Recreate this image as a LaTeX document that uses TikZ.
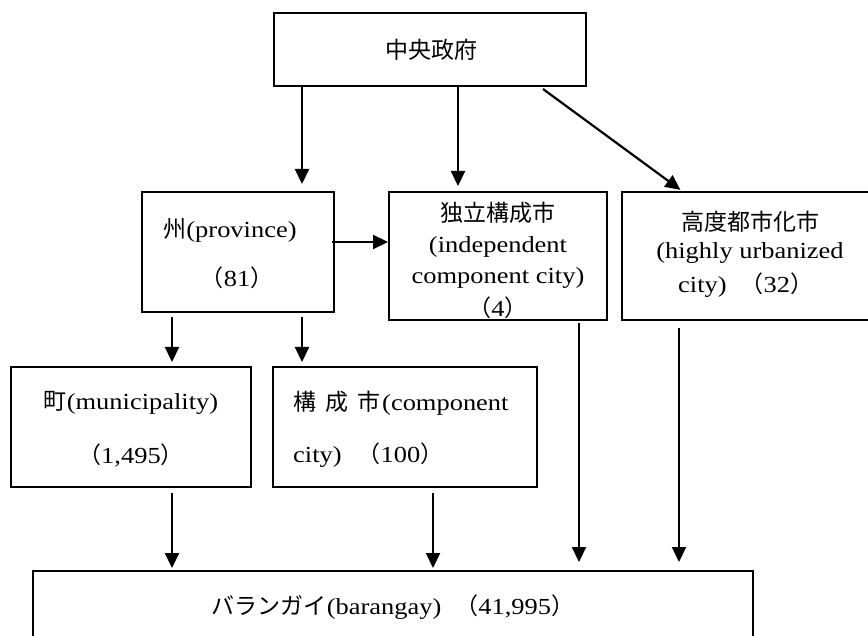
\documentclass[tikz,border=0pt]{standalone}
\usepackage{fontspec}
\setmainfont{Liberation Serif}[FakeStretch=1.15]
\newfontfamily\cjk{Noto Sans CJK JP}
\usetikzlibrary{arrows.meta}
\newcommand\fwp[1]{{\cjk （}#1{\cjk ）}}
\begin{document}
\begin{tikzpicture}[x=1pt,y=-1pt,
  box/.style={draw, line width=2pt, rectangle, inner sep=0pt},
  lbl/.style={inner sep=0pt, font=\fontsize{23}{28}\selectfont},
  arr/.style={line width=2.2pt, -{Triangle[length=15pt,width=14pt]}}]
\useasboundingbox (0,0) rectangle (868,636);
% boxes
\node[box, minimum width=312pt, minimum height=73pt] (top) at (430,49.5) {};
\node[box, minimum width=192pt, minimum height=120pt] (prov) at (238,252) {};
\node[box, minimum width=218pt, minimum height=128pt] (indep) at (498,256) {};
\node[box, minimum width=250pt, minimum height=128pt] (huc) at (747,256) {};
\node[box, minimum width=240pt, minimum height=120pt] (muni) at (131,427) {};
\node[box, minimum width=264pt, minimum height=120pt] (comp) at (405,427) {};
\node[box, minimum width=720pt, minimum height=80pt] (bar) at (393,611) {};
% texts
\node[lbl] (t1) at (431,50) {\cjk 中央政府};
\node[lbl] (t2) at (230,230) {{\cjk 州}(province)};
\node[lbl] (t3) at (237,278) {\fwp{81}};
\node[lbl] (t4) at (498,213) {\cjk 独立構成市};
\node[lbl] (t5) at (498,247) {(independent};
\node[lbl] (t6) at (498,278) {component city)};
\node[lbl] (t7) at (498,308) {\fwp{4}};
\node[lbl] (t8) at (750,222) {\cjk 高度都市化市};
\node[lbl] (t9) at (750,253) {(highly urbanized};
\node[lbl, anchor=west] (t10) at (678,285) {city)\hspace{14pt}\fwp{32}};
\node[lbl] (t11) at (131,403) {{\cjk 町}(municipality)};
\node[lbl] (t12) at (131,455) {\fwp{1,495}};
\node[lbl, anchor=west] (t13) at (293,403) {{\cjk 構\hspace{9pt}成\hspace{9pt}市\hspace{2pt}}(component};
\node[lbl, anchor=west] (t14) at (293,455) {city)\hspace{16pt}\fwp{100}};
\node[lbl] (t15) at (393,607) {{\cjk バランガイ}(barangay)\hspace{14pt}\fwp{41,995}};
% arrows
\draw[arr, shorten >=7pt] (302,0 |- top.south) -- (302,0 |- prov.north);
\draw[arr, shorten >=5pt] (458,0 |- top.south) -- (458,0 |- indep.north);
\draw[arr, shorten >=2pt] ([yshift=-2pt]543,0 |- top.south) -- (682,0 |- huc.north);
\draw[arr] ([xshift=-3pt]prov.east |- 0,242) -- (indep.west |- 0,242);
\draw[arr, shorten <=4pt, shorten >=4pt] (172,0 |- prov.south) -- (172,0 |- muni.north);
\draw[arr, shorten <=4pt, shorten >=4pt] (302,0 |- prov.south) -- (302,0 |- comp.north);
\draw[arr, shorten <=5pt, shorten >=2pt] (172,0 |- muni.south) -- (172,0 |- bar.north);
\draw[arr, shorten <=5pt, shorten >=2pt] (433,0 |- comp.south) -- (433,0 |- bar.north);
\draw[arr, shorten <=2pt, shorten >=8pt] (579,0 |- indep.south) -- (579,0 |- bar.north);
\draw[arr, shorten <=7pt, shorten >=8pt] (679,0 |- huc.south) -- (679,0 |- bar.north);
\end{tikzpicture}
\end{document}
